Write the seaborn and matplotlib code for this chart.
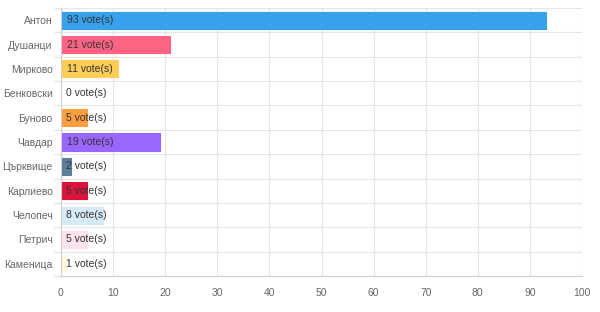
import matplotlib
matplotlib.use("Agg")
import matplotlib.pyplot as plt
import seaborn as sns
import pandas as pd

categories = ["Антон", "Душанци", "Мирково", "Бенковски", "Буново", "Чавдар",
              "Църквище", "Карлиево", "Челопеч", "Петрич", "Каменица"]
votes = [93, 21, 11, 0, 5, 19, 2, 5, 8, 5, 1]
colors = ["#36A2EB", "#FF6384", "#FFCD56", "#C9CBCF", "#FF9F40", "#9966FF",
          "#5B7F99", "#DC143C", "#D6EAF8", "#FCE4EC", "#FFF8DC"]
xticks = [0, 10, 20, 30, 40, 50, 60, 70, 80, 90, 100]

sns.set_theme(style="white")
plt.rcParams["font.family"] = ["Liberation Sans", "DejaVu Sans"]

df = pd.DataFrame({"cat": categories, "votes": votes})

fig = plt.figure(figsize=(6, 3.12), dpi=100)
ax = fig.add_axes([61/600, 1-276/312, (582-61)/600, (276-8)/312])

sns.barplot(data=df, x="votes", y="cat", hue="cat", palette=colors,
            orient="h", width=0.7, legend=False, ax=ax, saturation=1)
for p, c in zip(ax.patches, colors):
    p.set_edgecolor(c)
    p.set_linewidth(0.8)

for i, v in enumerate(votes):
    ax.text(0.9 if v < 10 else 1.2, i, f"{v} vote(s)", va="center", ha="left",
            fontsize=7.5, color="#333333")

ax.set_xlim(0, 100)
ax.set_ylim(len(categories) - 0.5, -0.5)
ax.set_xticks(xticks)
ax.set_xticklabels([str(t) for t in xticks])
ax.set_yticks(range(len(categories)))
ax.set_yticks([i + 0.5 for i in range(-1, len(categories))], minor=True)
ax.grid(False)
ax.grid(True, axis="x", which="major", color="#e6e6e6", linewidth=0.8)
ax.grid(True, axis="y", which="minor", color="#e6e6e6", linewidth=0.8)
ax.set_axisbelow(True)
ax.set_xlabel("")
ax.set_ylabel("")
for s in ["top", "right"]:
    ax.spines[s].set_visible(False)
ax.spines["left"].set_color("#d0d0d0")
ax.spines["bottom"].set_color("#d0d0d0")
ax.spines["left"].set_linewidth(0.8)
ax.spines["bottom"].set_linewidth(0.8)
ax.tick_params(axis="x", which="major", length=5, color="#e6e6e6", labelsize=7.5,
               labelcolor="#666666", pad=4)
ax.tick_params(axis="y", which="major", length=0, labelsize=7.5,
               labelcolor="#666666", pad=6)
ax.tick_params(axis="y", which="minor", length=5, color="#e6e6e6", left=True)

fig.savefig("out.png", dpi=100)
